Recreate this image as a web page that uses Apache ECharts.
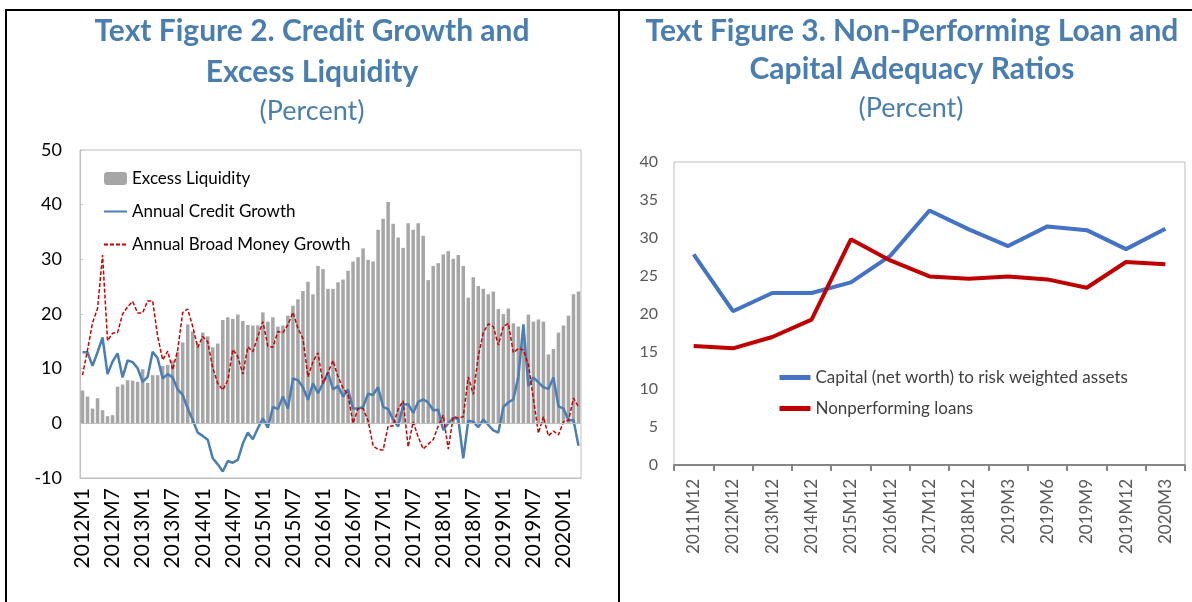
<!DOCTYPE html>
<html>
<head>
<meta charset="utf-8" />
<title>Credit Growth and NPL</title>
<script src="https://cdn.jsdelivr.net/npm/echarts@6/dist/echarts.min.js"></script>
<style>
  html, body { margin: 0; padding: 0; background: #fff; }
  #main { width: 1192px; height: 602px; }
</style>
</head>
<body>
<div id="main"></div>
<script>
// 左图：月度数据 2012M1 - 2020M4
const years = [2012, 2013, 2014, 2015, 2016, 2017, 2018, 2019, 2020];
const months = [];
years.forEach((y) => {
  for (let m = 1; m <= 12; m++) {
    if (y === 2020 && m > 4) break;
    months.push(y + "M" + m);
  }
});

const excessLiquidity = [
  6.0, 4.9, 2.7, 4.6, 2.4, 1.3, 1.5, 6.7, 7.1, 7.9,
  7.8, 7.6, 9.9, 7.4, 8.8, 8.8, 10.5, 10.7, 11.5, 13.1,
  14.8, 18.1, 16.8, 14.6, 16.6, 15.9, 13.9, 14.6, 18.9, 19.4,
  19.1, 19.9, 18.7, 18.0, 17.9, 17.9, 20.3, 18.6, 19.4, 17.7,
  17.9, 19.7, 21.5, 22.7, 24.2, 25.9, 23.6, 28.8, 28.2, 24.6,
  24.6, 25.8, 26.3, 27.9, 29.6, 30.4, 32.0, 29.9, 29.6, 35.4,
  37.4, 40.5, 36.5, 34.0, 32.1, 36.6, 35.4, 36.6, 34.3, 26.2,
  28.8, 29.3, 30.9, 31.5, 30.1, 30.8, 28.8, 23.0, 26.7, 25.1,
  24.6, 23.6, 24.1, 20.9, 20.0, 21.0, 18.3, 17.7, 16.5, 19.9,
  18.6, 19.0, 18.6, 12.6, 13.6, 16.6, 17.9, 19.7, 23.6, 24.1,
];

const creditGrowth = [
  13.0, 13.0, 10.5, 13.0, 15.7, 9.0, 11.3, 12.8, 8.4, 11.5,
  11.2, 10.1, 7.6, 8.5, 13.1, 11.9, 8.2, 9.0, 8.4, 6.2,
  5.2, 2.7, 0.6, -1.7, -2.3, -3.0, -6.4, -7.5, -8.8, -6.9,
  -7.2, -6.7, -3.7, -1.7, -2.9, -0.9, 0.9, -0.8, 3.0, 2.6,
  4.9, 2.7, 8.2, 7.9, 6.6, 4.3, 7.3, 5.5, 7.3, 9.3,
  6.2, 6.8, 4.9, 6.2, 2.7, 2.7, 3.0, 5.4, 5.2, 6.6,
  3.0, 2.6, 0.7, -0.6, 3.4, 3.5, 1.9, 3.9, 4.4, 3.8,
  2.4, 2.5, -1.2, 0.0, 1.0, 0.8, -6.4, 0.5, 0.3, -0.7,
  0.7, -0.3, -1.3, -1.7, 3.0, 3.8, 4.4, 8.5, 18.1, 6.8,
  8.4, 7.5, 6.6, 6.3, 8.4, 3.1, 2.7, 0.5, 0.6, -4.1,
];

const broadMoneyGrowth = [
  8.8, 13.4, 18.4, 21.0, 30.8, 15.1, 16.5, 16.6, 20.0, 21.3,
  22.3, 20.2, 20.2, 22.4, 22.4, 15.9, 11.6, 13.2, 9.8, 13.4,
  20.3, 20.9, 17.7, 13.9, 15.9, 14.9, 10.1, 7.3, 6.1, 7.9,
  13.5, 12.2, 9.0, 14.0, 13.1, 15.9, 18.6, 14.1, 13.9, 16.8,
  16.6, 18.0, 20.3, 17.4, 15.5, 8.5, 11.3, 12.9, 7.3, 9.3,
  11.5, 8.5, 6.5, 5.2, 0.0, 2.7, 2.7, 0.5, -4.1, -4.8,
  -4.9, -0.5, -0.5, 2.6, 4.1, -4.3, 0.3, -2.5, -4.7, -3.8,
  -3.0, -0.5, 1.5, -4.7, 1.2, 1.0, 1.2, 8.5, 5.3, 12.3,
  16.6, 18.2, 17.7, 14.3, 17.7, 18.3, 12.9, 13.7, 13.4, 10.7,
  4.5, -1.8, 1.2, -2.3, -1.4, -2.1, 0.3, 0.5, 4.6, 3.0,
];

// 右图：资本充足率与不良贷款
const periods = [
  "2011M12", "2012M12", "2013M12", "2014M12", "2015M12", "2016M12",
  "2017M12", "2018M12", "2019M3", "2019M6", "2019M9", "2019M12", "2020M3",
];
const capitalRatio = [27.8, 20.3, 22.7, 22.7, 24.1, 27.6, 33.6, 31.1, 28.9, 31.5, 31.0, 28.5, 31.2];
const nplRatio = [15.7, 15.4, 16.9, 19.2, 29.8, 27.0, 24.9, 24.6, 24.9, 24.5, 23.4, 26.8, 26.5];

const leftTicks = { min: -10, max: 50, interval: 10 };
const rightTicks = { min: 0, max: 40, interval: 5 };

const FONT = "Lato, 'Noto Sans', sans-serif";
const TITLE_COLOR = "#4a7eb0";

function titleText(x, y, text, bold) {
  return {
    type: "text",
    x: x,
    y: y,
    style: {
      text: text,
      fill: TITLE_COLOR,
      font: (bold ? "bold 30px " : "27px ") + FONT,
      textAlign: "center",
      textVerticalAlign: "middle",
      align: "center",
      verticalAlign: "middle",
    },
  };
}

// 图例里的折线只要线，不要圆点
const noDot = { opacity: 0 };

const chart = echarts.init(document.getElementById("main"));

const option = {
  animation: false,
  textStyle: { fontFamily: FONT },
  graphic: [
    // 外框
    {
      type: "polyline",
      shape: { points: [[6, 602], [6, 10], [1192, 10]] },
      style: { stroke: "#000", lineWidth: 2, fill: null },
    },
    {
      type: "line",
      shape: { x1: 619, y1: 10, x2: 619, y2: 602 },
      style: { stroke: "#000", lineWidth: 2 },
    },
    titleText(312, 31, "Text Figure 2. Credit Growth and", true),
    titleText(312, 72, "Excess Liquidity", true),
    titleText(312, 111, "(Percent)", false),
    titleText(912, 31, "Text Figure 3. Non-Performing Loan and", true),
    titleText(912, 69, "Capital Adequacy Ratios", true),
    titleText(911, 108, "(Percent)", false),
  ],
  legend: [
    {
      data: [
        { name: "Excess Liquidity" },
        { name: "Annual Credit Growth", itemStyle: noDot },
        { name: "Annual Broad Money Growth", itemStyle: noDot },
      ],
      orient: "vertical",
      left: 98,
      top: 165,
      itemWidth: 23,
      itemHeight: 13,
      itemGap: 16,
      textStyle: { fontSize: 17, color: "#000", fontFamily: FONT },
    },
    {
      data: [
        {
          name: "Capital (net worth) to risk weighted assets",
          itemStyle: noDot,
          lineStyle: { width: 5 },
        },
        { name: "Nonperforming loans", itemStyle: noDot, lineStyle: { width: 5 } },
      ],
      orient: "vertical",
      left: 772,
      top: 364,
      itemWidth: 31,
      itemHeight: 12,
      itemGap: 14,
      textStyle: { fontSize: 17, color: "#404040", fontFamily: FONT },
    },
  ],
  grid: [
    { left: 80, top: 150, width: 501, height: 328, show: true, borderColor: "#bfbfbf", borderWidth: 1 },
    { left: 674, top: 162, width: 511, height: 303, show: true, borderColor: "#bfbfbf", borderWidth: 1 },
  ],
  xAxis: [
    {
      type: "category",
      gridIndex: 0,
      data: months,
      boundaryGap: true,
      axisLine: { onZero: false, lineStyle: { color: "#bfbfbf" } },
      axisTick: { show: false },
      axisLabel: { interval: 5, rotate: 90, fontSize: 21, color: "#000", margin: 10 },
      splitLine: { show: false },
    },
    {
      type: "category",
      gridIndex: 1,
      data: periods,
      boundaryGap: true,
      axisLine: { lineStyle: { color: "#868686", width: 2 } },
      axisTick: { show: true, length: 6, lineStyle: { color: "#868686", width: 2 } },
      axisLabel: { interval: 0, rotate: 90, fontSize: 17, color: "#595959", margin: 14 },
      splitLine: { show: false },
    },
  ],
  yAxis: [
    {
      type: "value",
      gridIndex: 0,
      min: leftTicks.min,
      max: leftTicks.max,
      interval: leftTicks.interval,
      axisLine: { show: true, lineStyle: { color: "#bfbfbf" } },
      axisTick: { show: true, inside: true, length: 3, lineStyle: { color: "#bfbfbf" } },
      axisLabel: { fontSize: 18, color: "#000", margin: 18 },
      splitLine: { show: false },
    },
    {
      type: "value",
      gridIndex: 1,
      min: rightTicks.min,
      max: rightTicks.max,
      interval: rightTicks.interval,
      axisLine: { show: false },
      axisTick: { show: false },
      axisLabel: { fontSize: 16, color: "#595959", margin: 16 },
      splitLine: { show: false },
    },
  ],
  series: [
    {
      name: "Excess Liquidity",
      type: "bar",
      xAxisIndex: 0,
      yAxisIndex: 0,
      data: excessLiquidity,
      barWidth: "70%",
      itemStyle: { color: "#a6a6a6" },
      markLine: {
        silent: true,
        symbol: "none",
        label: { show: false },
        lineStyle: { color: "#bfbfbf", type: "solid", width: 1 },
        data: [{ yAxis: 0 }],
      },
    },
    {
      name: "Annual Credit Growth",
      type: "line",
      xAxisIndex: 0,
      yAxisIndex: 0,
      data: creditGrowth,
      symbol: "none",
      lineStyle: { color: "#4a7eb4", width: 2.5 },
      itemStyle: { color: "#4a7eb4" },
    },
    {
      name: "Annual Broad Money Growth",
      type: "line",
      xAxisIndex: 0,
      yAxisIndex: 0,
      data: broadMoneyGrowth,
      symbol: "none",
      lineStyle: { color: "#cc0000", width: 1.5, type: [4, 2] },
      itemStyle: { color: "#cc0000" },
    },
    {
      name: "Capital (net worth) to risk weighted assets",
      type: "line",
      xAxisIndex: 1,
      yAxisIndex: 1,
      data: capitalRatio,
      symbol: "none",
      lineStyle: { color: "#4472c4", width: 4 },
      itemStyle: { color: "#4472c4" },
    },
    {
      name: "Nonperforming loans",
      type: "line",
      xAxisIndex: 1,
      yAxisIndex: 1,
      data: nplRatio,
      symbol: "none",
      lineStyle: { color: "#c00000", width: 4 },
      itemStyle: { color: "#c00000" },
    },
  ],
};

chart.setOption(option);
</script>
</body>
</html>
